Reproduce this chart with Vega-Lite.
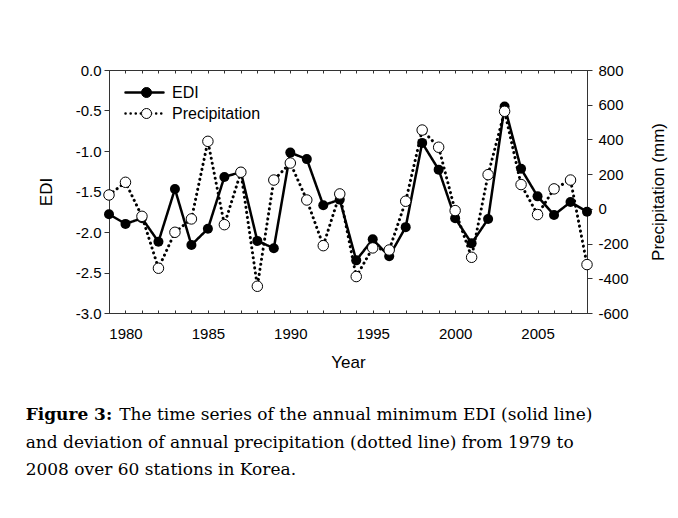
{
  "$schema": "https://vega.github.io/schema/vega-lite/v6.json",
  "padding": {"left": 25, "top": 62, "right": 5, "bottom": 5},
  "background": "white",
  "datasets": {
    "edi": [
      {"year": 1979, "series": "EDI", "value": -1.78},
      {"year": 1980, "series": "EDI", "value": -1.90},
      {"year": 1981, "series": "EDI", "value": -1.83},
      {"year": 1982, "series": "EDI", "value": -2.12},
      {"year": 1983, "series": "EDI", "value": -1.47},
      {"year": 1984, "series": "EDI", "value": -2.16},
      {"year": 1985, "series": "EDI", "value": -1.96},
      {"year": 1986, "series": "EDI", "value": -1.32},
      {"year": 1987, "series": "EDI", "value": -1.26},
      {"year": 1988, "series": "EDI", "value": -2.11},
      {"year": 1989, "series": "EDI", "value": -2.20},
      {"year": 1990, "series": "EDI", "value": -1.02},
      {"year": 1991, "series": "EDI", "value": -1.10},
      {"year": 1992, "series": "EDI", "value": -1.67},
      {"year": 1993, "series": "EDI", "value": -1.60},
      {"year": 1994, "series": "EDI", "value": -2.35},
      {"year": 1995, "series": "EDI", "value": -2.09},
      {"year": 1996, "series": "EDI", "value": -2.30},
      {"year": 1997, "series": "EDI", "value": -1.94},
      {"year": 1998, "series": "EDI", "value": -0.90},
      {"year": 1999, "series": "EDI", "value": -1.23},
      {"year": 2000, "series": "EDI", "value": -1.83},
      {"year": 2001, "series": "EDI", "value": -2.14},
      {"year": 2002, "series": "EDI", "value": -1.84},
      {"year": 2003, "series": "EDI", "value": -0.45},
      {"year": 2004, "series": "EDI", "value": -1.22},
      {"year": 2005, "series": "EDI", "value": -1.56},
      {"year": 2006, "series": "EDI", "value": -1.79},
      {"year": 2007, "series": "EDI", "value": -1.63},
      {"year": 2008, "series": "EDI", "value": -1.75}
    ],
    "precip": [
      {"year": 1979, "series": "Precipitation", "value": 80},
      {"year": 1980, "series": "Precipitation", "value": 153},
      {"year": 1981, "series": "Precipitation", "value": -43},
      {"year": 1982, "series": "Precipitation", "value": -342},
      {"year": 1983, "series": "Precipitation", "value": -135},
      {"year": 1984, "series": "Precipitation", "value": -58},
      {"year": 1985, "series": "Precipitation", "value": 389},
      {"year": 1986, "series": "Precipitation", "value": -91},
      {"year": 1987, "series": "Precipitation", "value": 211},
      {"year": 1988, "series": "Precipitation", "value": -446},
      {"year": 1989, "series": "Precipitation", "value": 166},
      {"year": 1990, "series": "Precipitation", "value": 264},
      {"year": 1991, "series": "Precipitation", "value": 51},
      {"year": 1992, "series": "Precipitation", "value": -212},
      {"year": 1993, "series": "Precipitation", "value": 86},
      {"year": 1994, "series": "Precipitation", "value": -390},
      {"year": 1995, "series": "Precipitation", "value": -225},
      {"year": 1996, "series": "Precipitation", "value": -237},
      {"year": 1997, "series": "Precipitation", "value": 44},
      {"year": 1998, "series": "Precipitation", "value": 454},
      {"year": 1999, "series": "Precipitation", "value": 355},
      {"year": 2000, "series": "Precipitation", "value": -10},
      {"year": 2001, "series": "Precipitation", "value": -279},
      {"year": 2002, "series": "Precipitation", "value": 197},
      {"year": 2003, "series": "Precipitation", "value": 562},
      {"year": 2004, "series": "Precipitation", "value": 140},
      {"year": 2005, "series": "Precipitation", "value": -33},
      {"year": 2006, "series": "Precipitation", "value": 115},
      {"year": 2007, "series": "Precipitation", "value": 166},
      {"year": 2008, "series": "Precipitation", "value": -321}
    ]
  },
  "title": {
    "text": "The time series of the annual minimum EDI (solid line)",
    "orient": "bottom",
    "anchor": "start",
    "frame": "bounds",
    "offset": 0,
    "dx": 94,
    "dy": -72,
    "font": "DejaVu Serif",
    "fontSize": 17,
    "fontWeight": "normal",
    "color": "black"
  },
  "vconcat": [
    {
      "width": 478,
      "height": 243,
      "title": {
        "text": "Figure 3:",
        "subtitle": [
          "and deviation of annual precipitation (dotted line) from 1979 to",
          "2008 over 60 stations in Korea."
        ],
        "orient": "bottom",
        "anchor": "start",
        "frame": "bounds",
        "offset": 37,
        "dx": -11.5,
        "font": "DejaVu Serif",
        "fontSize": 17,
        "fontWeight": "bold",
        "color": "black",
        "subtitleFont": "DejaVu Serif",
        "subtitleFontSize": 17,
        "subtitleFontWeight": "normal",
        "subtitleColor": "black",
        "subtitleLineHeight": 27.5,
        "subtitlePadding": 10.5
      },
      "layer": [
        {
          "data": {"name": "edi"},
          "encoding": {
            "x": {
              "field": "year",
              "type": "quantitative",
              "scale": {"domain": [1979, 2008], "nice": false, "zero": false},
              "axis": {
                "orient": "bottom",
                "values": [1979, 1980, 1981, 1982, 1983, 1984, 1985, 1986, 1987, 1988, 1989, 1990, 1991, 1992, 1993, 1994, 1995, 1996, 1997, 1998, 1999, 2000, 2001, 2002, 2003, 2004, 2005, 2006, 2007, 2008],
                "format": "d",
                "labelExpr": "datum.value % 5 === 0 ? datum.label : ''",
                "labelOverlap": false,
                "labelFlush": false,
                "tickSize": -3,
                "labelPadding": 16,
                "title": "Year",
                "titlePadding": 13
              }
            },
            "y": {
              "field": "value",
              "type": "quantitative",
              "scale": {"domain": [-3, 0], "nice": false, "zero": false},
              "axis": {
                "orient": "left",
                "values": [-3, -2.5, -2, -1.5, -1, -0.5, 0],
                "format": ".1f",
                "tickSize": 5,
                "labelPadding": 3,
                "title": "EDI",
                "titlePadding": 20
              }
            }
          },
          "layer": [
            {
              "mark": {"type": "line", "color": "black", "strokeWidth": 2.5},
              "encoding": {
                "strokeDash": {
                  "field": "series",
                  "type": "nominal",
                  "scale": {"domain": ["EDI", "Precipitation"], "range": [[1, 0], [0.1, 5]]},
                  "legend": {
                    "orient": "top-left",
                    "offset": 12,
                    "title": null,
                    "symbolType": "stroke",
                    "symbolSize": 1444,
                    "symbolStrokeWidth": 2.5,
                    "symbolStrokeColor": "black",
                    "symbolOffset": 3,
                    "clipHeight": 21,
                    "labelOffset": 7,
                    "labelFontSize": 16,
                    "padding": 0,
                    "rowPadding": 0,
                    "zindex": 0,
                    "encode": {"symbols": {"update": {"strokeCap": {"value": "round"}}}}
                  }
                }
              }
            },
            {
              "mark": {"type": "point", "filled": true, "size": 100, "opacity": 1, "shape": "circle"},
              "encoding": {
                "fill": {
                  "field": "series",
                  "type": "nominal",
                  "scale": {"domain": ["EDI", "Precipitation"], "range": ["black", "white"]},
                  "legend": {
                    "orient": "none",
                    "legendX": 29.5,
                    "legendY": 12,
                    "title": null,
                    "symbolType": "circle",
                    "symbolSize": 100,
                    "symbolStrokeColor": "black",
                    "symbolStrokeWidth": 1,
                    "clipHeight": 21,
                    "labelExpr": "''",
                    "labelOffset": 0,
                    "padding": 0,
                    "rowPadding": 0,
                    "zindex": 1,
                    "encode": {"symbols": {"update": {"stroke": {"value": "black"}, "opacity": {"value": 1}}}}
                  }
                }
              }
            }
          ]
        },
        {
          "data": {"name": "precip"},
          "mark": {"type": "line", "color": "black", "strokeWidth": 3, "strokeCap": "round"},
          "encoding": {
            "x": {
              "field": "year",
              "type": "quantitative",
              "scale": {"domain": [1979, 2008], "nice": false, "zero": false},
              "axis": {
                "orient": "top",
                "values": [1979, 1980, 1981, 1982, 1983, 1984, 1985, 1986, 1987, 1988, 1989, 1990, 1991, 1992, 1993, 1994, 1995, 1996, 1997, 1998, 1999, 2000, 2001, 2002, 2003, 2004, 2005, 2006, 2007, 2008],
                "labels": false,
                "tickSize": -3,
                "title": null
              }
            },
            "y": {
              "field": "value",
              "type": "quantitative",
              "scale": {"domain": [-600, 800], "nice": false, "zero": false},
              "axis": {
                "orient": "right",
                "values": [-600, -400, -200, 0, 200, 400, 600, 800],
                "format": "d",
                "tickSize": 5,
                "labelPadding": 6,
                "title": "Precipitation (mm)",
                "titleAngle": 270,
                "titleBaseline": "top",
                "titlePadding": 22
              }
            },
            "strokeDash": {
              "field": "series",
              "type": "nominal",
              "scale": {"domain": ["EDI", "Precipitation"], "range": [[1, 0], [0.1, 5]]}
            }
          }
        },
        {
          "data": {"name": "precip"},
          "mark": {"type": "point", "filled": true, "size": 110, "opacity": 1, "shape": "circle", "stroke": "black", "strokeWidth": 1},
          "encoding": {
            "x": {
              "field": "year",
              "type": "quantitative",
              "scale": {"domain": [1979, 2008], "nice": false, "zero": false},
              "axis": null
            },
            "y": {
              "field": "value",
              "type": "quantitative",
              "scale": {"domain": [-600, 800], "nice": false, "zero": false},
              "axis": null
            },
            "fill": {
              "field": "series",
              "type": "nominal",
              "scale": {"domain": ["EDI", "Precipitation"], "range": ["black", "white"]}
            }
          }
        }
      ],
      "resolve": {"scale": {"y": "independent"}, "axis": {"x": "independent", "y": "independent"}}
    }
  ],
  "config": {
    "font": "Liberation Sans",
    "view": {"stroke": "#333", "strokeWidth": 1},
    "axis": {
      "grid": false,
      "domainColor": "#333",
      "tickColor": "#333",
      "labelColor": "black",
      "titleColor": "black",
      "labelFont": "Liberation Sans",
      "titleFont": "Liberation Sans",
      "labelFontSize": 15,
      "titleFontSize": 17,
      "titleFontWeight": "normal",
      "domainWidth": 1,
      "tickWidth": 1
    },
    "legend": {
      "labelFont": "Liberation Sans",
      "labelFontSize": 16,
      "labelColor": "black"
    },
    "locale": {
      "number": {"decimal": ".", "thousands": ",", "grouping": [3], "currency": ["$", ""], "minus": "-"}
    }
  }
}
